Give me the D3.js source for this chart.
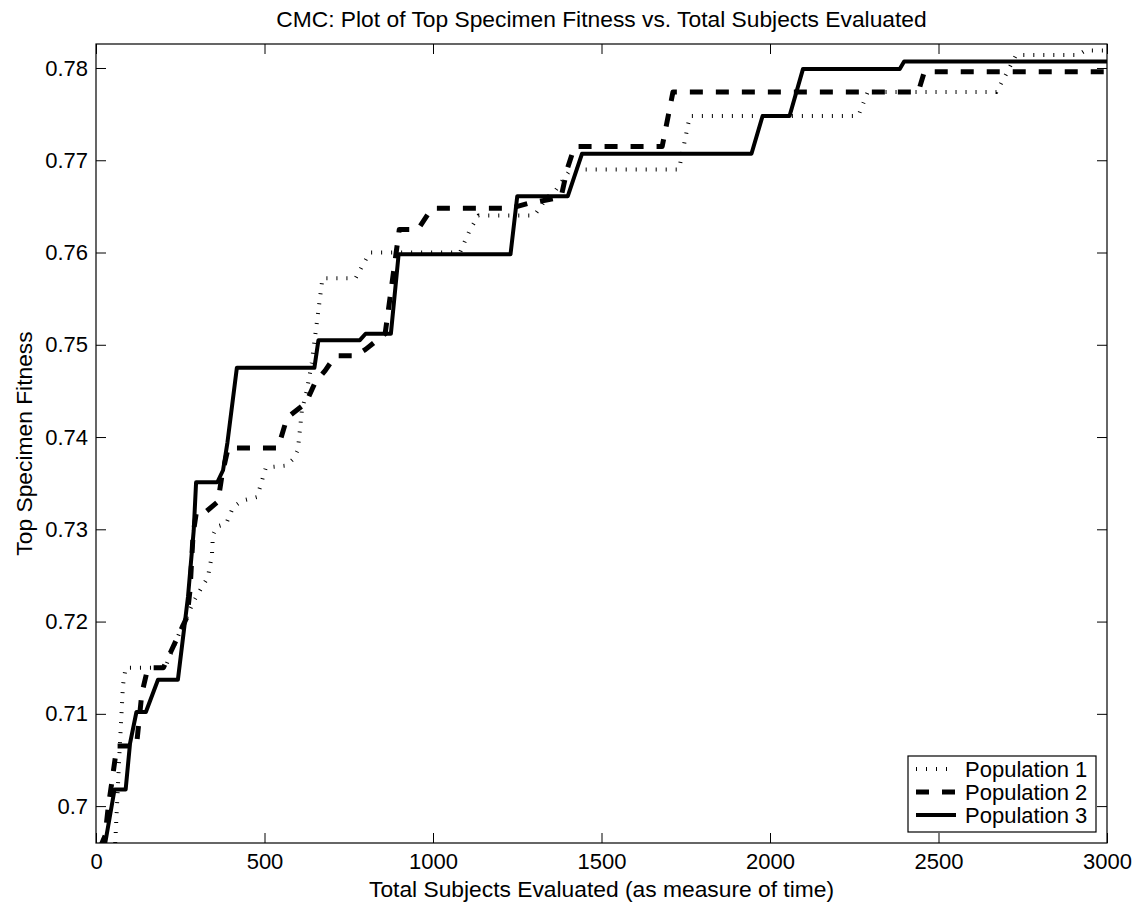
<!DOCTYPE html>
<html>
<head>
<meta charset="utf-8">
<script src="https://cdnjs.cloudflare.com/ajax/libs/d3/7.8.5/d3.min.js"></script>
<style>
  body { margin: 0; background: #fff; }
  svg { display: block; font-family: "Liberation Sans", Arial, Helvetica, sans-serif; }
</style>
</head>
<body>
<svg></svg>
<script>
// --- data ---
let seriesNames = ["Population 1", "Population 2", "Population 3"]

let pop1X = [57, 70, 80, 88, 205, 250, 290, 312, 332, 344, 347, 359, 386, 407, 433, 478, 496, 504, 564, 585, 599, 611, 626, 640, 672, 770, 812, 1080, 1110, 1135, 1300, 1340, 1365, 1408, 1730, 1762, 2262, 2290, 2672, 2700, 2730, 2915, 2935, 3000]
let pop1Y = [0.6960, 0.7060, 0.7131, 0.7150, 0.7150, 0.7190, 0.7222, 0.7236, 0.7248, 0.7272, 0.7294, 0.7303, 0.7306, 0.7324, 0.7331, 0.7335, 0.7357, 0.7367, 0.7369, 0.7376, 0.7386, 0.7429, 0.7451, 0.7480, 0.7572, 0.7572, 0.7600, 0.7600, 0.7625, 0.7640, 0.7640, 0.7660, 0.7668, 0.7690, 0.7690, 0.7748, 0.7748, 0.7774, 0.7774, 0.7793, 0.7814, 0.7814, 0.7819, 0.7819]

let pop2X = [12, 27, 36, 47, 62, 120, 136, 154, 200, 270, 279, 288, 298, 326, 362, 374, 392, 540, 567, 623, 650, 680, 710, 770, 800, 858, 900, 955, 997, 1230, 1280, 1380, 1398, 1420, 1680, 1712, 2440, 2458, 3000]
let pop2Y = [0.6955, 0.6968, 0.6998, 0.7026, 0.7065, 0.7065, 0.7122, 0.7150, 0.7150, 0.7205, 0.7234, 0.7294, 0.7319, 0.7319, 0.7330, 0.7359, 0.7388, 0.7388, 0.7421, 0.7437, 0.7459, 0.7472, 0.7488, 0.7488, 0.7495, 0.7512, 0.7625, 0.7625, 0.7648, 0.7648, 0.7653, 0.7660, 0.7690, 0.7715, 0.7715, 0.7774, 0.7774, 0.7796, 0.7796]

let pop3X = [25, 55, 88, 101, 120, 148, 184, 243, 273, 290, 297, 360, 377, 390, 418, 648, 660, 783, 800, 875, 898, 1230, 1250, 1400, 1442, 1945, 1978, 2058, 2098, 2385, 2398, 3000]
let pop3Y = [0.6955, 0.7018, 0.7018, 0.7068, 0.7102, 0.7102, 0.7137, 0.7137, 0.7227, 0.7299, 0.7351, 0.7351, 0.7364, 0.7394, 0.7475, 0.7475, 0.7505, 0.7505, 0.7512, 0.7512, 0.7598, 0.7598, 0.7661, 0.7661, 0.7707, 0.7707, 0.7748, 0.7748, 0.7799, 0.7799, 0.7807, 0.7807]

let xTicks = [0, 500, 1000, 1500, 2000, 2500, 3000]
let xTickLabels = ["0", "500", "1000", "1500", "2000", "2500", "3000"]
let yTicks = [0.70, 0.71, 0.72, 0.73, 0.74, 0.75, 0.76, 0.77, 0.78]
let yTickLabels = ["0.7", "0.71", "0.72", "0.73", "0.74", "0.75", "0.76", "0.77", "0.78"]

// --- layout ---
let width = 1138
let height = 903
let plotLeft = 96
let plotRight = 1107
let plotTop = 44
let plotBottom = 843
let fontSize = 22
let titleSize = 22.8

let svg = d3.select("svg")
            .attr("width", width)
            .attr("height", height)

let xScale = d3.scaleLinear()
               .domain([0, 3000])
               .range([plotLeft, plotRight])

let yScale = d3.scaleLinear()
               .domain([0.696, 0.7826])
               .range([plotBottom, plotTop])

let styles = [
  { width: 4, dash: "1,9" },
  { width: 5, dash: "13,13" },
  { width: 4, dash: null }
]

let series = [
  d3.zip(pop1X, pop1Y),
  d3.zip(pop2X, pop2Y),
  d3.zip(pop3X, pop3Y)
]

let drawAxes = () => {
  let fmtY = (d) => yTickLabels[yTicks.indexOf(d)]
  let fmtX = (d) => xTickLabels[xTicks.indexOf(d)]

  let xAxis = d3.axisBottom(xScale).tickValues(xTicks).tickSizeInner(-10).tickSizeOuter(0).tickPadding(10).tickFormat(fmtX)
  let xTop = d3.axisTop(xScale).tickValues(xTicks).tickSizeInner(-10).tickSizeOuter(0).tickFormat("")
  let yAxis = d3.axisLeft(yScale).tickValues(yTicks).tickSizeInner(-10).tickSizeOuter(0).tickPadding(8).tickFormat(fmtY)
  let yRight = d3.axisRight(yScale).tickValues(yTicks).tickSizeInner(-10).tickSizeOuter(0).tickFormat("")

  svg.append("g").attr("transform", "translate(0," + plotBottom + ")").call(xAxis)
  svg.append("g").attr("transform", "translate(0," + plotTop + ")").call(xTop)
  svg.append("g").attr("transform", "translate(" + plotLeft + ",0)").call(yAxis)
  svg.append("g").attr("transform", "translate(" + plotRight + ",0)").call(yRight)

  svg.selectAll(".domain").remove()
  svg.selectAll(".tick line").attr("stroke", "#000").attr("stroke-width", 1)
  svg.selectAll(".tick text")
     .attr("fill", "#000")
     .style("font-size", fontSize + "px")
     .style("font-family", "'Liberation Sans', Arial, sans-serif")

  svg.append("rect")
     .attr("x", plotLeft)
     .attr("y", plotTop)
     .attr("width", plotRight - plotLeft)
     .attr("height", plotBottom - plotTop)
     .attr("fill", "none")
     .attr("stroke", "#000")
     .attr("stroke-width", 1.2)
}

let drawLines = () => {
  svg.append("clipPath")
     .attr("id", "plot-clip")
     .append("rect")
     .attr("x", plotLeft)
     .attr("y", plotTop)
     .attr("width", plotRight - plotLeft)
     .attr("height", plotBottom - plotTop)

  let line = d3.line()
               .x((d) => xScale(d[0]))
               .y((d) => yScale(d[1]))

  svg.append("g")
     .attr("clip-path", "url(#plot-clip)")
     .selectAll("path")
     .data(series)
     .enter()
     .append("path")
     .attr("d", line)
     .attr("fill", "none")
     .attr("stroke", "#000")
     .attr("stroke-width", (d, i) => styles[i].width)
     .attr("stroke-dasharray", (d, i) => styles[i].dash)
     .attr("stroke-linejoin", "round")
}

let drawText = () => {
  svg.append("text")
     .attr("x", (plotLeft + plotRight) / 2)
     .attr("y", 27)
     .attr("text-anchor", "middle")
     .style("font-size", titleSize + "px")
     .text("CMC: Plot of Top Specimen Fitness vs. Total Subjects Evaluated")

  svg.append("text")
     .attr("x", (plotLeft + plotRight) / 2)
     .attr("y", 897)
     .attr("text-anchor", "middle")
     .style("font-size", titleSize + "px")
     .text("Total Subjects Evaluated (as measure of time)")

  svg.append("text")
     .attr("transform", "translate(32," + (plotTop + plotBottom) / 2 + ") rotate(-90)")
     .attr("text-anchor", "middle")
     .style("font-size", titleSize + "px")
     .text("Top Specimen Fitness")
}

let drawLegend = () => {
  let lg = svg.append("g")

  lg.append("rect")
    .attr("x", 908)
    .attr("y", 756)
    .attr("width", 1096 - 908)
    .attr("height", 832 - 756)
    .attr("fill", "#fff")
    .attr("stroke", "#000")
    .attr("stroke-width", 1.2)

  let rows = lg.selectAll(".row")
               .data(seriesNames)
               .enter()
               .append("g")
               .attr("transform", (d, i) => "translate(0," + (769 + i * 23) + ")")

  rows.append("line")
      .attr("x1", 916)
      .attr("x2", 956)
      .attr("stroke", "#000")
      .attr("stroke-width", (d, i) => styles[i].width)
      .attr("stroke-dasharray", (d, i) => styles[i].dash)

  rows.append("text")
      .attr("x", 965)
      .attr("dy", "0.36em")
      .style("font-size", fontSize + "px")
      .text((d) => d)
}

drawAxes()
drawLines()
drawLegend()
drawText()
</script>
</body>
</html>
